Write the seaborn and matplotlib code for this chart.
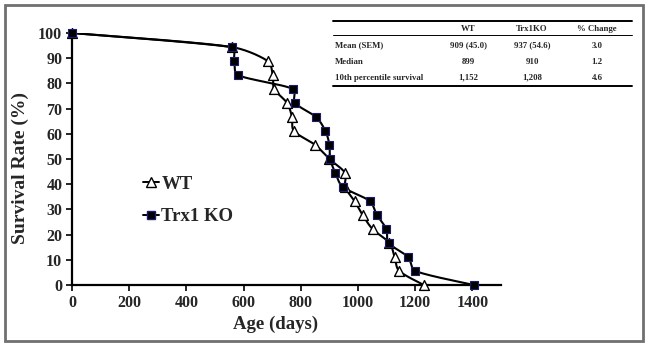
import numpy as np
import pandas as pd
import matplotlib
matplotlib.use("Agg")
import matplotlib.pyplot as plt
from matplotlib.lines import Line2D
from matplotlib.patches import Rectangle
import seaborn as sns

# ---- data ----
wt_days = [0, 559, 684, 702, 707, 752, 769, 776, 850, 900, 955, 955, 988, 1016, 1051, 1110, 1128, 1144, 1230]
wt_surv = [100, 94.4, 88.9, 83.3, 77.8, 72.2, 66.7, 61.1, 55.6, 50.0, 44.4, 38.9, 33.3, 27.8, 22.2, 16.7, 11.1, 5.6, 0]
ko_days = [0, 559, 567, 580, 772, 780, 853, 886, 900, 903, 921, 947, 1041, 1066, 1099, 1107, 1175, 1200, 1405]
ko_surv = [100, 94.4, 88.9, 83.3, 77.8, 72.2, 66.7, 61.1, 55.6, 50.0, 44.4, 38.9, 33.3, 27.8, 22.2, 16.7, 11.1, 5.6, 0]

x_ticks = [0, 200, 400, 600, 800, 1000, 1200, 1400]
y_ticks = [0, 10, 20, 30, 40, 50, 60, 70, 80, 90, 100]

table_cols = ["", "WT", "Trx1KO", "% Change"]
table_rows = ["Mean (SEM)", "Median", "10th percentile survival"]
table_wt = ["909 (45.0)", "899", "1,152"]
table_ko = ["937 (54.6)", "910", "1,208"]
table_pct = ["3.0", "1.2", "4.6"]

sns.set_theme(style="white")
plt.rcParams['font.family'] = ['Liberation Serif', 'DejaVu Serif']
plt.rcParams['font.weight'] = 'bold'

W, H = 650, 344
fig = plt.figure(figsize=(W / 100, H / 100), dpi=100)
ax = fig.add_axes([72 / W, 1 - 285 / H, (501 - 72) / W, (285 - 33) / H])

XMAX, YMAX = 1500, 100
sx = (501 - 72) / XMAX
sy = (285 - 33) / YMAX


def smooth(xs, ys, n=24, t=1 / 6):
    P = np.column_stack([np.asarray(xs, float) * sx, np.asarray(ys, float) * sy])
    out = []
    m = len(P)
    for i in range(m - 1):
        p0 = P[i]
        p3 = P[i + 1]
        pm = P[i - 1] if i > 0 else P[i]
        pp = P[i + 2] if i + 2 < m else P[i + 1]
        seglen = np.linalg.norm(p3 - p0)
        h1 = (p3 - pm) * t
        h2 = (pp - p0) * t
        lim = seglen / 3
        n1 = np.linalg.norm(h1)
        n2 = np.linalg.norm(h2)
        if n1 > lim and n1 > 0:
            h1 = h1 * lim / n1
        if n2 > lim and n2 > 0:
            h2 = h2 * lim / n2
        c1 = p0 + h1
        c2 = p3 - h2
        u = np.linspace(0, 1, n, endpoint=(i == m - 2))[:, None]
        seg = ((1 - u) ** 3) * p0 + 3 * ((1 - u) ** 2) * u * c1 + 3 * (1 - u) * u ** 2 * c2 + u ** 3 * p3
        out.append(seg)
    S = np.vstack(out)
    return S[:, 0] / sx, S[:, 1] / sy


wx, wy = smooth(wt_days, wt_surv)
kx, ky = smooth(ko_days, ko_surv)

sns.lineplot(x=wx, y=wy, sort=False, estimator=None, color='black', lw=1.5, ax=ax, zorder=2)
sns.lineplot(x=kx, y=ky, sort=False, estimator=None, color='black', lw=1.5, ax=ax, zorder=2)

sns.scatterplot(x=wt_days, y=wt_surv, marker='^', s=50, facecolor='white', edgecolor='black',
                linewidth=1.0, ax=ax, zorder=3, clip_on=False)
sns.scatterplot(x=ko_days, y=ko_surv, marker='s', s=38, color='black', edgecolor='#1c1c6e',
                linewidth=0.8, ax=ax, zorder=4, clip_on=False)

ax.set_xlim(0, XMAX)
ax.set_ylim(0, YMAX)
ax.set_xticks(x_ticks)
ax.set_yticks(y_ticks)
ax.set_xticklabels([str(v) for v in x_ticks], fontsize=11.5, fontweight='bold')
ax.set_yticklabels([str(v) for v in y_ticks], fontsize=11.5, fontweight='bold')
ax.tick_params(axis='both', direction='out', length=4, width=1.2, color='black', pad=3)
ax.xaxis.set_ticks_position('bottom')
ax.yaxis.set_ticks_position('left')
for s in ['top', 'right']:
    ax.spines[s].set_visible(False)
for s in ['left', 'bottom']:
    ax.spines[s].set_color('black')
    ax.spines[s].set_linewidth(1.6)

ax.set_xlabel("Age (days)", fontsize=13.5, fontweight='bold')
ax.set_ylabel("Survival Rate (%)", fontsize=14, fontweight='bold')
ax.xaxis.set_label_coords((276 - 72) / 429, -(316 - 285) / 252)
ax.yaxis.set_label_coords(-(72 - 29) / 429, (285 - 168) / 252)

handles = [
    Line2D([], [], color='black', lw=1.4, marker='^', markersize=7, markerfacecolor='white',
           markeredgecolor='black'),
    Line2D([], [], color='black', lw=1.4, marker='s', markersize=6.2, markerfacecolor='black',
           markeredgecolor='#1c1c6e'),
]
ax.legend(handles, ["WT", "Trx1 KO"], loc='upper left', bbox_to_anchor=(0.125, 0.50),
          frameon=False, handlelength=0.9, handletextpad=0.1, labelspacing=0.8,
          prop={'family': 'Liberation Serif', 'weight': 'bold', 'size': 13.5})

# ---- table ----
def fx(px):
    return px / W


def fy(py):
    return 1 - py / H


fig.add_artist(Line2D([fx(333), fx(632)], [fy(21), fy(21)], color='black', lw=1.4))
fig.add_artist(Line2D([fx(333), fx(632)], [fy(35), fy(35)], color='black', lw=0.7))
fig.add_artist(Line2D([fx(333), fx(632)], [fy(86), fy(86)], color='black', lw=1.4))
col_x = [335, 468, 532, 597]
tfs = 6.3
for j, name in enumerate(table_cols):
    if name:
        fig.text(fx(col_x[j]), fy(29), name, ha='center', va='center', fontsize=tfs, fontweight='bold')
row_y = [45.5, 61.5, 77.5]
for i, rname in enumerate(table_rows):
    fig.text(fx(col_x[0]), fy(row_y[i]), rname, ha='left', va='center', fontsize=tfs, fontweight='bold')
    fig.text(fx(col_x[1]), fy(row_y[i]), table_wt[i], ha='center', va='center', fontsize=tfs, fontweight='bold')
    fig.text(fx(col_x[2]), fy(row_y[i]), table_ko[i], ha='center', va='center', fontsize=tfs, fontweight='bold')
    fig.text(fx(col_x[3]), fy(row_y[i]), table_pct[i], ha='center', va='center', fontsize=tfs, fontweight='bold')

# outer border
fig.add_artist(Rectangle((fx(5), fy(341)), fx(638), (336) / H, transform=fig.transFigure,
                         fill=False, edgecolor='#707070', lw=2))

fig.savefig("out.png", dpi=100)
